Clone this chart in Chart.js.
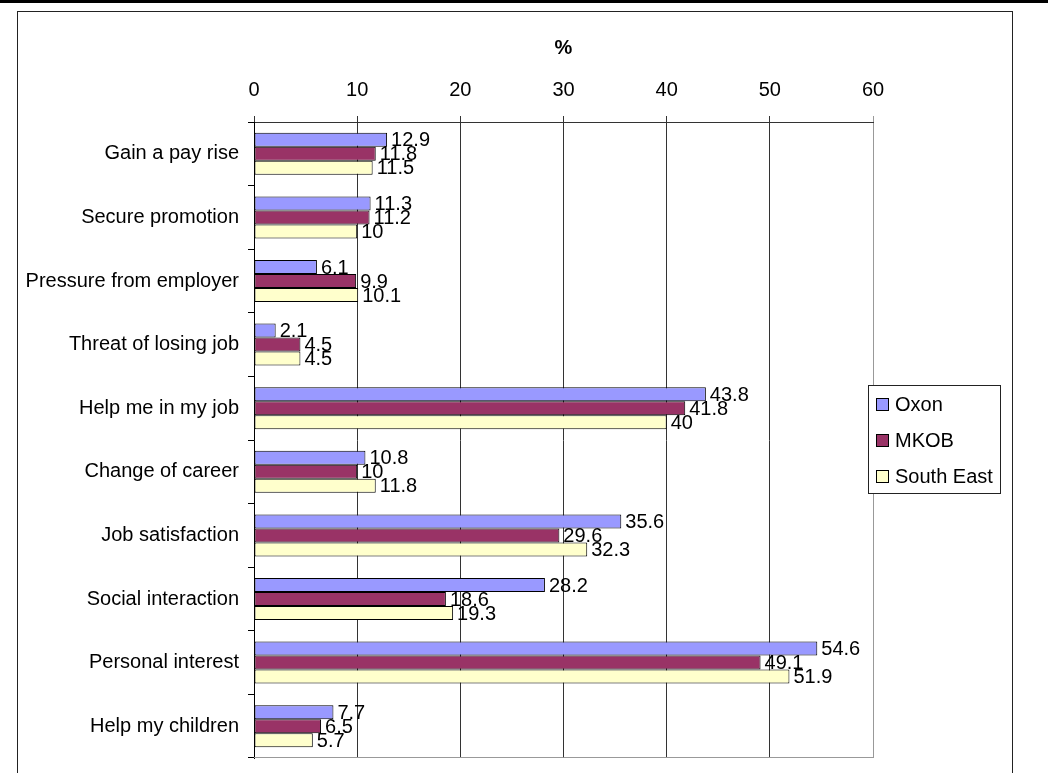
<!DOCTYPE html>
<html>
<head>
<meta charset="utf-8">
<script src="https://cdn.jsdelivr.net/npm/chart.js@4"></script>
<style>
    body { margin: 0; background: #fff; }
    canvas { display: block; }
</style>
</head>
<body>
<canvas id="chart" width="1048" height="773"></canvas>
<script>
const categories = [
    "Gain a pay rise", "Secure promotion", "Pressure from employer", "Threat of losing job",
    "Help me in my job", "Change of career", "Job satisfaction", "Social interaction",
    "Personal interest", "Help my children"
];
const oxon = [12.9, 11.3, 6.1, 2.1, 43.8, 10.8, 35.6, 28.2, 54.6, 7.7];
const mkob = [11.8, 11.2, 9.9, 4.5, 41.8, 10, 29.6, 18.6, 49.1, 6.5];
const southEast = [11.5, 10, 10.1, 4.5, 40, 11.8, 32.3, 19.3, 51.9, 5.7];
const seriesNames = ["Oxon", "MKOB", "South East"];
const seriesColors = ["#9999ff", "#993366", "#ffffcc"];

const FONT = "'Liberation Sans', Arial, sans-serif";
Chart.defaults.font.family = FONT;
Chart.defaults.font.size = 20;
Chart.defaults.color = "#000";

// frame round the whole picture + thick rule on top
const framePlugin = {
    id: "frame",
    beforeDraw(chart) {
        const ctx = chart.ctx;
        ctx.save();
        ctx.fillStyle = "#fff";
        ctx.fillRect(0, 0, chart.width, chart.height);
        ctx.fillStyle = "#000";
        ctx.fillRect(0, 0, chart.width, 3);
        ctx.strokeStyle = "#222";
        ctx.lineWidth = 1;
        ctx.strokeRect(17.5, 11.5, 995, 800);
        ctx.restore();
    },
    afterDatasetsDraw(chart) {
        // grey bottom edge of the plot area
        const ctx = chart.ctx;
        const a = chart.chartArea;
        ctx.save();
        ctx.strokeStyle = "#999";
        ctx.lineWidth = 1;
        ctx.beginPath();
        ctx.moveTo(a.left, a.bottom - 0.5);
        ctx.lineTo(a.right + 0.5, a.bottom - 0.5);
        ctx.stroke();
        ctx.restore();
    }
};

const valueLabels = {
    id: "valueLabels",
    afterDatasetsDraw(chart) {
        const ctx = chart.ctx;
        ctx.save();
        ctx.font = "20px " + FONT;
        ctx.fillStyle = "#000";
        ctx.textAlign = "left";
        ctx.textBaseline = "middle";
        chart.data.datasets.forEach((ds, i) => {
            chart.getDatasetMeta(i).data.forEach((bar, j) => {
                ctx.fillText(String(ds.data[j]), bar.x + 4, bar.y + 1);
            });
        });
        ctx.restore();
    }
};

const boxLegend = {
    id: "boxLegend",
    afterDraw(chart) {
        const ctx = chart.ctx;
        const left = 868, top = 385, w = 132, h = 108;
        ctx.save();
        ctx.fillStyle = "#fff";
        ctx.fillRect(left, top, w, h);
        ctx.strokeStyle = "#222";
        ctx.lineWidth = 1;
        ctx.strokeRect(left + 0.5, top + 0.5, w, h);
        ctx.font = "20px " + FONT;
        ctx.textBaseline = "middle";
        chart.data.datasets.forEach((ds, i) => {
            const y = top + 19 + i * 36;
            ctx.fillStyle = ds.backgroundColor;
            ctx.fillRect(876, y - 6, 12, 12);
            ctx.strokeStyle = "#000";
            ctx.strokeRect(876.5, y - 5.5, 12, 12);
            ctx.fillStyle = "#000";
            ctx.fillText(ds.label, 895, y + 1);
        });
        ctx.restore();
    }
};

const datasets = [oxon, mkob, southEast].map((values, i) => ({
    label: seriesNames[i],
    data: values,
    backgroundColor: seriesColors[i],
    borderColor: "#000",
    borderWidth: 1,
    borderSkipped: false,
    barPercentage: 1,
    categoryPercentage: 0.66
}));

new Chart(document.getElementById("chart"), {
    type: "bar",
    data: { labels: categories, datasets: datasets },
    options: {
        indexAxis: "y",
        responsive: false,
        animation: false,
        devicePixelRatio: 1,
        layout: { padding: { left: 0, top: 30, right: 175, bottom: 15 } },
        plugins: {
            legend: { display: false },
            tooltip: { enabled: false }
        },
        scales: {
            x: {
                position: "top",
                min: 0,
                max: 60,
                ticks: { stepSize: 10, padding: 14, font: { size: 20 } },
                grid: {
                    color: ctx => (ctx.tick && ctx.tick.value === 60) ? "#999" : "#333",
                    tickLength: 6,
                    lineWidth: 1
                },
                border: { color: "#333" },
                title: {
                    display: true,
                    text: "%",
                    font: { size: 20, weight: "bold" },
                    padding: { top: 6, bottom: 0 }
                },
                afterFit(scale) { scale.height = 92; }
            },
            y: {
                ticks: { padding: 9, font: { size: 20 } },
                grid: {
                    drawOnChartArea: false,
                    tickLength: 6,
                    color: "#000",
                    offset: true
                },
                border: { color: "#000" },
                afterFit(scale) {
                    scale.width = 254;
                    scale.paddingTop = 0;
                    scale.paddingBottom = 0;
                }
            }
        }
    },
    plugins: [framePlugin, valueLabels, boxLegend]
});
</script>
</body>
</html>
